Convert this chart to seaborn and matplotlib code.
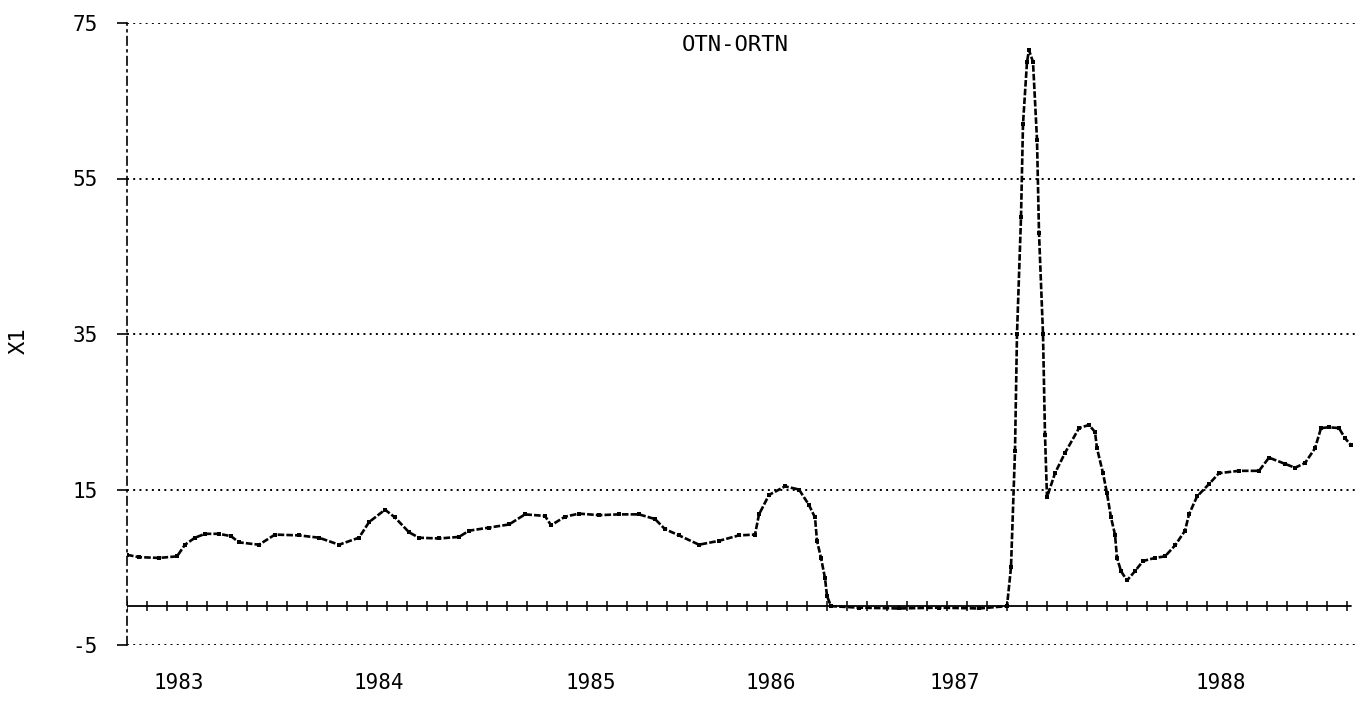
import numpy as np
import pandas as pd
import matplotlib
matplotlib.use("Agg")
import matplotlib.pyplot as plt
import seaborn as sns

# Observation index (irregularly spaced samples) and the X1 series
period = [0, 6, 16, 25, 29, 34, 39, 46, 52, 56, 66, 74, 86, 96, 106, 116, 121,
          129, 134, 141, 146, 156, 166, 171, 181, 191, 199, 209, 212, 219, 226,
          236, 246, 256, 264, 269, 276, 286, 296, 306, 314, 316, 321, 329, 336,
          341, 344, 345, 347, 349, 350, 352, 366, 386, 406, 426, 440,
          442, 444, 445, 447, 448, 450, 451, 453, 455, 456, 458, 459, 460,
          464, 469, 476, 481, 484, 485, 488, 490, 492, 494, 495, 497, 500,
          504, 508, 514, 519, 524, 529, 531, 535, 541, 546, 556, 566, 571,
          579, 584, 589, 594, 597, 601, 606, 609, 612]
x1 = [6.6, 6.3, 6.2, 6.4, 7.9, 8.8, 9.3, 9.3, 9.0, 8.2, 7.9, 9.2, 9.1, 8.8,
      7.9, 8.8, 10.8, 12.4, 11.4, 9.5, 8.8, 8.7, 8.9, 9.7, 10.1, 10.5, 11.8,
      11.6, 10.4, 11.5, 11.9, 11.7, 11.8, 11.8, 11.2, 9.9, 9.1, 7.9, 8.4, 9.1,
      9.2, 11.8, 14.3, 15.4, 15.0, 13.0, 11.4, 8.4, 6.2, 3.6, 1.3, 0.0, -0.2,
      -0.3, -0.2, -0.3, 0.0,
      5.0, 20.0, 35.0, 50.0, 62.0, 70.0, 71.5, 70.0, 60.0, 48.0, 35.0, 22.0,
      14.0, 17.1, 19.7, 22.9, 23.3, 22.4, 20.3, 17.1, 14.5, 11.4, 9.2, 6.2,
      4.5, 3.3, 4.5, 5.8, 6.2, 6.4, 7.8, 9.7, 11.8, 14.1, 15.7, 17.1, 17.4,
      17.4, 19.1, 18.3, 17.8, 18.4, 20.3, 22.9, 23.0, 22.9, 21.6, 20.7]

year_ticks = [26, 126, 232, 322, 414, 547]
year_labels = ["1983", "1984", "1985", "1986", "1987", "1988"]
y_ticks = [-5, 15, 35, 55, 75]
y_labels = ["-5", "15", "35", "55", "75"]
series_title = "OTN-ORTN"

sns.set_theme(style="white")
plt.rcParams["font.family"] = ["DejaVu Sans Mono", "DejaVu Sans"]

fig = plt.figure(figsize=(13.64, 7.02), dpi=100)
ax = fig.add_axes([127 / 1364, 1 - 645 / 702, (1355 - 127) / 1364, (645 - 23) / 702])

df = pd.DataFrame({"period": period, "X1": x1})

# dotted reference lines at each labelled level
for yv in y_ticks:
    ax.axhline(yv, color="black", linestyle=(0, (1, 2.2)), linewidth=1.4, zorder=1)

# zero baseline with small period tick marks
ax.axhline(0, xmax=0.997, color="black", linewidth=1.3, zorder=2)
zero_marks = np.arange(0, 613, 10)
ax.plot(zero_marks, np.zeros(len(zero_marks)),
        marker="|", markersize=7, markeredgewidth=1.1, linestyle="none",
        color="black", zorder=2)

sns.lineplot(data=df, x="period", y="X1", ax=ax, color="black",
             linewidth=1.9, linestyle=(0, (2.5, 0.8)), marker="s", markersize=3,
             markeredgewidth=0, zorder=3)

ax.set_xlim(0, 614)
ax.set_ylim(-5, 75)

for side in ["top", "right", "bottom"]:
    ax.spines[side].set_visible(False)
ax.spines["left"].set_linestyle((0, (5, 3, 1, 3)))
ax.spines["left"].set_linewidth(1.2)
ax.spines["left"].set_color("black")

ax.set_yticks(y_ticks)
ax.set_yticklabels(y_labels)
ax.tick_params(axis="y", left=True, length=7, width=1.2, pad=14,
               labelsize=15, colors="black")
ax.set_xticks(year_ticks)
ax.set_xticklabels(year_labels)
ax.tick_params(axis="x", bottom=False, length=0, pad=20, labelsize=15,
               colors="black")

ax.set_xlabel("")
ax.set_ylabel("X1", fontsize=16, color="black")
ax.yaxis.set_label_coords(-0.08, 0.49)

ax.text(0.495, 0.965, series_title, transform=ax.transAxes, ha="center",
        va="center", fontsize=16, color="black")

fig.savefig("out.png", dpi=100)
